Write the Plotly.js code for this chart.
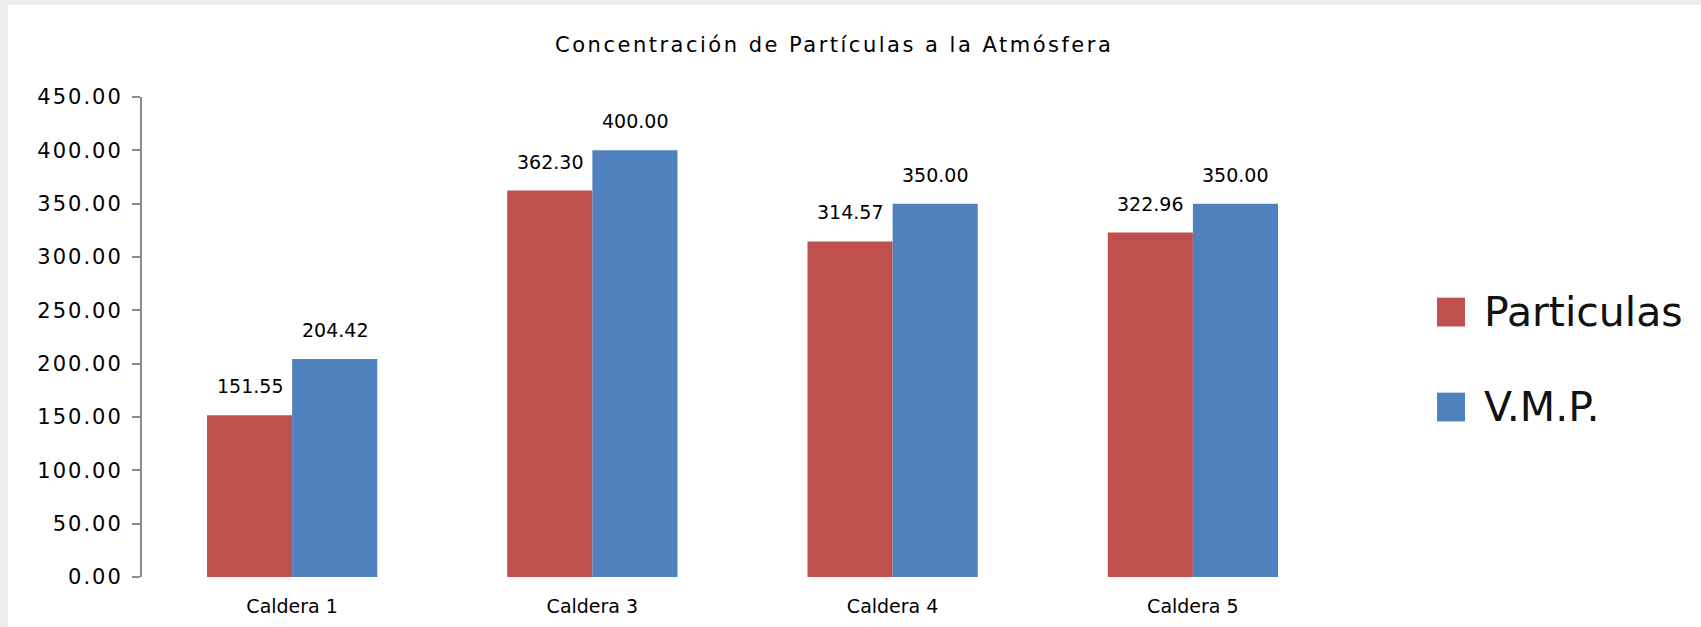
<!DOCTYPE html>
<html>
<head>
<meta charset="utf-8">
<script src="https://cdn.plot.ly/plotly-3.0.1.min.js"></script>
<style>
  html, body { margin: 0; padding: 0; background: #ececec; width: 1701px; height: 627px; overflow: hidden; }
  #chart { position: absolute; left: 8px; top: 5px; width: 1693px; height: 622px; background: #fff; }
  /* the original renders its small text with wide spacing */
  #chart .gtitle { letter-spacing: 2.5px; }
  #chart .ytick text { letter-spacing: 2px; }
</style>
</head>
<body>
<div id="chart"></div>
<script>
// Concentracion de particulas - Particulas vs V.M.P. por caldera
const categories = ["Caldera 1", "Caldera 3", "Caldera 4", "Caldera 5"];
const particulas = [151.55, 362.30, 314.57, 322.96];
const vmp = [204.42, 400.00, 350.00, 350.00];
const seriesNames = ["Particulas", "V.M.P."];
const seriesColors = ["#C0504D", "#4F81BD"];
const yTicks = [0, 50, 100, 150, 200, 250, 300, 350, 400, 450];

const font = "DejaVu Sans, sans-serif";
const seriesValues = [particulas, vmp];

const traces = seriesValues.map((vals, i) => ({
  x: categories,
  y: vals,
  type: "bar",
  name: seriesNames[i],
  marker: { color: seriesColors[i], line: { width: 0 } },
  hoverinfo: "x+y",
  showlegend: false,
}));

// value labels above each bar (offset to the bar within its group)
const BAR_OFFSET = 42.5;
const labelAnns = [];
seriesValues.forEach((vals, i) => {
  vals.forEach((v, j) => {
    labelAnns.push({
      x: categories[j],
      y: v,
      xref: "x",
      yref: "y",
      text: v.toFixed(2),
      showarrow: false,
      xshift: i === 0 ? -BAR_OFFSET : BAR_OFFSET,
      yshift: 29,
      yanchor: "middle",
      font: { family: font, size: 19, color: "#000" },
    });
  });
});

// big legend on the right (keys drawn as shapes, names as text)
const legendY = [0.552, 0.354];
const legendShapes = seriesNames.map((_, i) => ({
  type: "rect",
  xref: "paper",
  yref: "paper",
  x0: 1.0783,
  x1: 1.1016,
  y0: legendY[i] - 0.030,
  y1: legendY[i] + 0.030,
  fillcolor: seriesColors[i],
  line: { width: 0 },
}));
const legendAnns = seriesNames.map((name, i) => ({
  x: 1.1157,
  y: legendY[i],
  xref: "paper",
  yref: "paper",
  xanchor: "left",
  yanchor: "middle",
  text: name,
  showarrow: false,
  font: { family: font, size: 41, color: "#111" },
}));

const layout = {
  width: 1693,
  height: 622,
  margin: { l: 134, r: 358, t: 92, b: 50 },
  paper_bgcolor: "#fff",
  plot_bgcolor: "#fff",
  title: {
    text: "Concentración de Partículas a la Atmósfera",
    x: 0.488,
    xref: "container",
    xanchor: "center",
    y: 0.936,
    yref: "container",
    yanchor: "middle",
    font: { family: font, size: 21, color: "#000" },
  },
  barmode: "group",
  bargap: 0.433,
  bargroupgap: 0,
  xaxis: {
    type: "category",
    showgrid: false,
    showline: false,
    zeroline: false,
    ticks: "",
    ticklabelstandoff: 16,
    tickfont: { family: font, size: 19, color: "#000" },
  },
  yaxis: {
    range: [0, 450],
    tickvals: yTicks,
    tickformat: ".2f",
    showgrid: false,
    zeroline: false,
    showline: true,
    linecolor: "#8c8c8c",
    linewidth: 2,
    ticks: "outside",
    ticklen: 8,
    tickwidth: 2,
    tickcolor: "#8c8c8c",
    ticklabelstandoff: 5,
    tickfont: { family: font, size: 21, color: "#000" },
  },
  annotations: labelAnns.concat(legendAnns),
  shapes: legendShapes,
  showlegend: false,
};

Plotly.newPlot("chart", traces, layout, { displayModeBar: false, staticPlot: true });
</script>
</body>
</html>
